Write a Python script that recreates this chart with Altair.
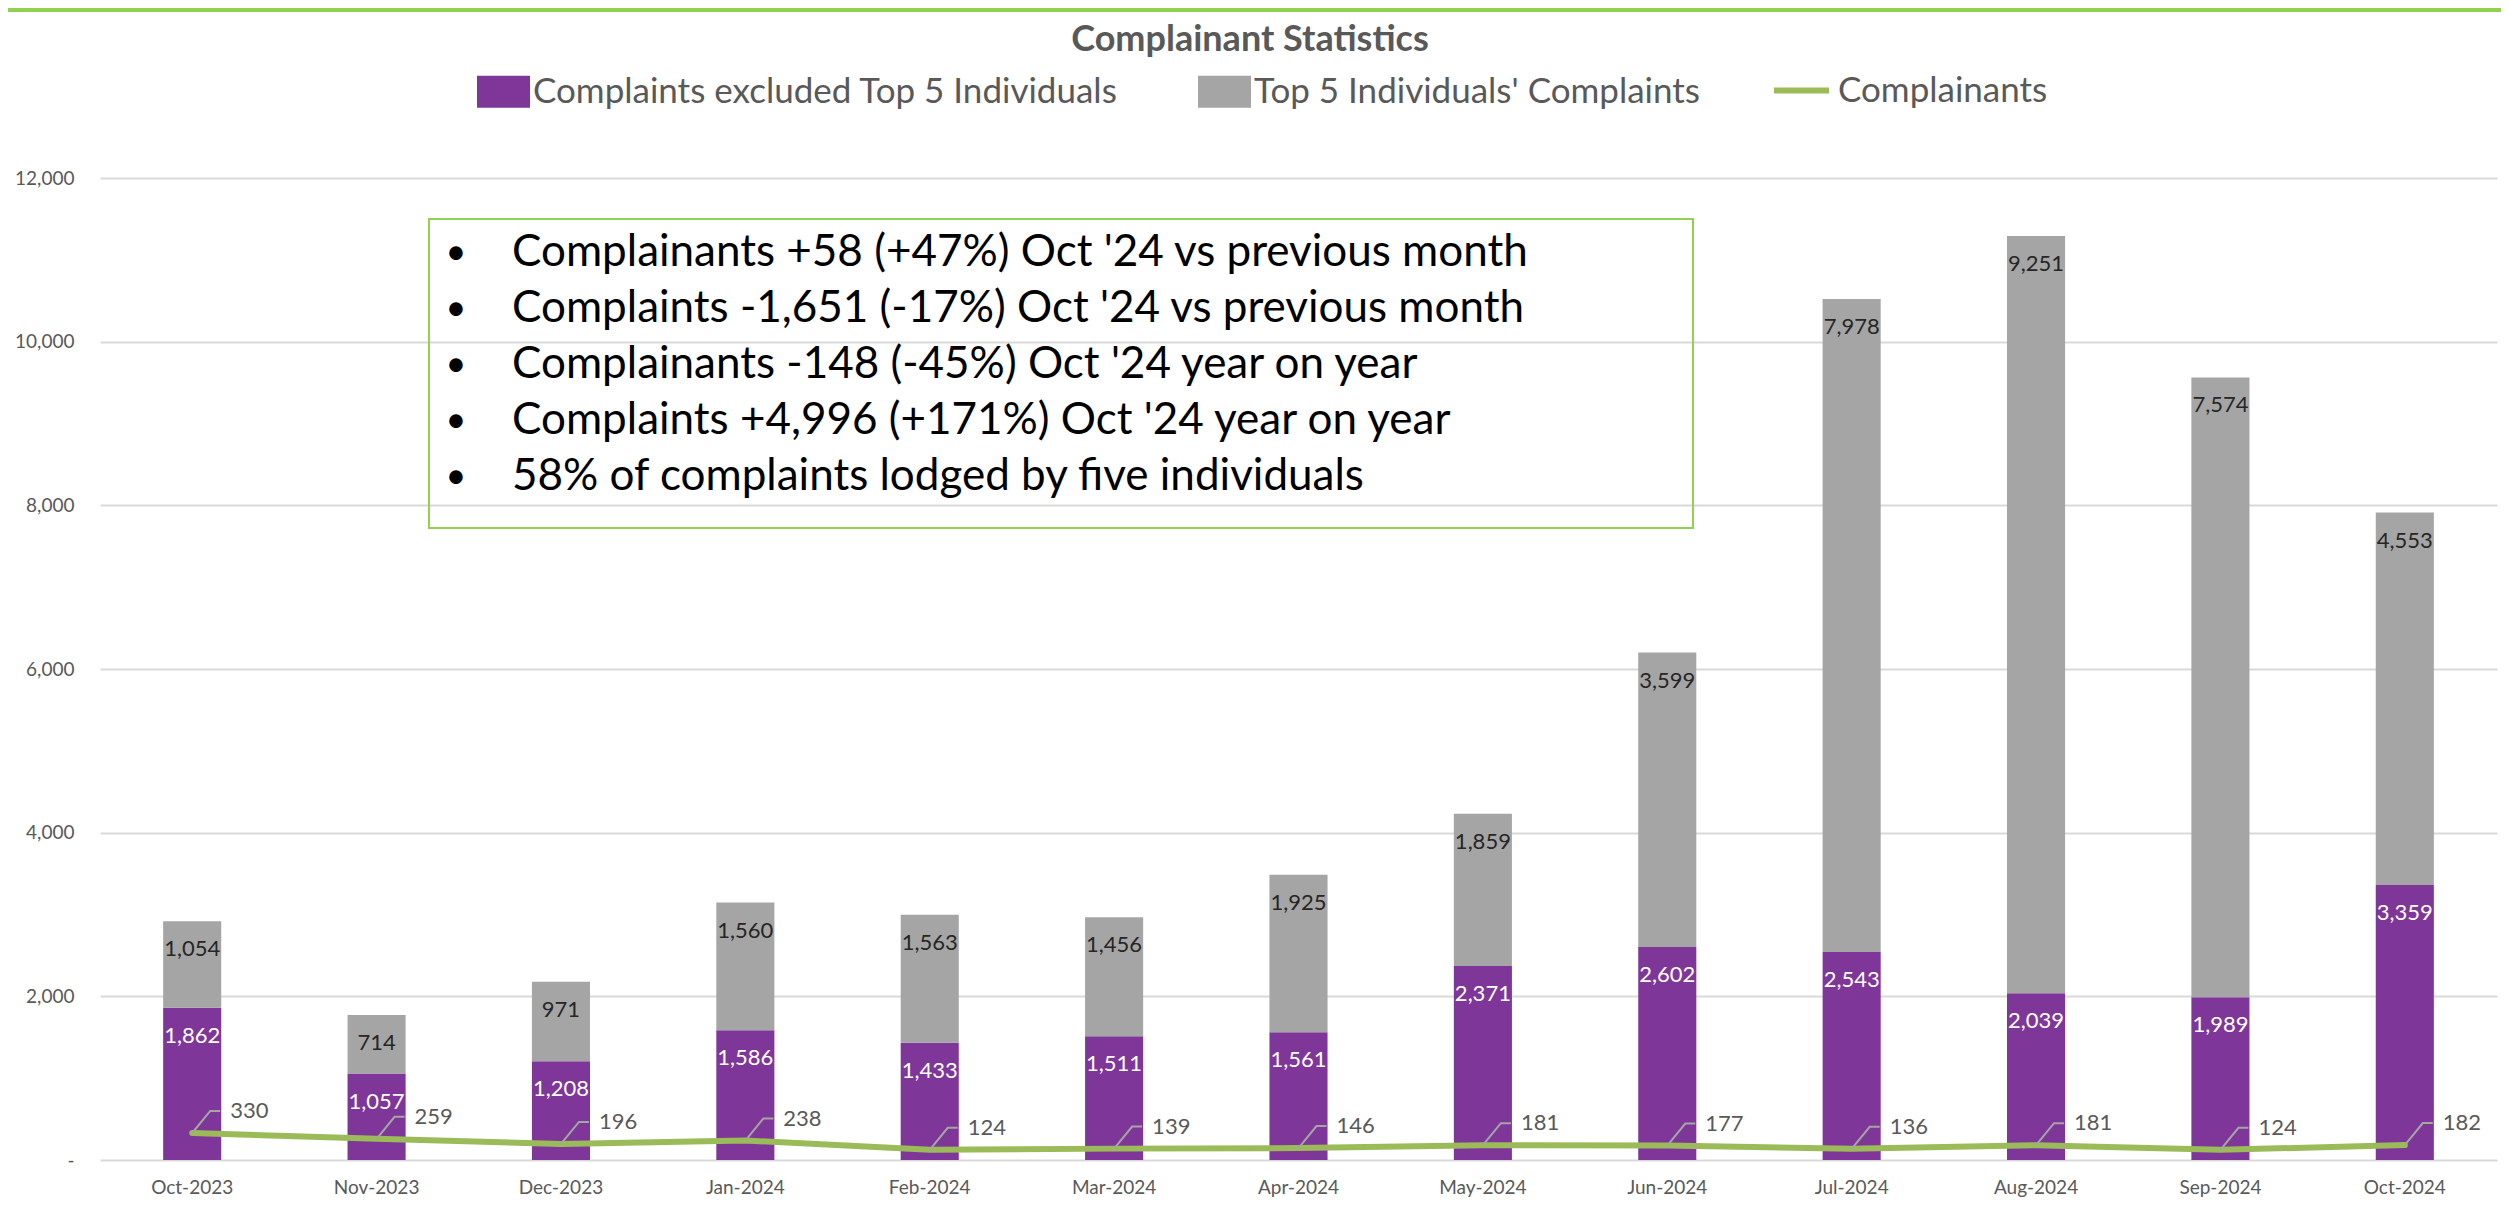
import altair as alt
import pandas as pd

# ---------------- data ----------------
months = ["Oct-2023", "Nov-2023", "Dec-2023", "Jan-2024", "Feb-2024", "Mar-2024",
          "Apr-2024", "May-2024", "Jun-2024", "Jul-2024", "Aug-2024", "Sep-2024", "Oct-2024"]
excluded_top5 = [1862, 1057, 1208, 1586, 1433, 1511, 1561, 2371, 2602, 2543, 2039, 1989, 3359]
top5_complaints = [1054, 714, 971, 1560, 1563, 1456, 1925, 1859, 3599, 7978, 9251, 7574, 4553]
complainants = [330, 259, 196, 238, 124, 139, 146, 181, 177, 136, 181, 124, 182]

series_names = ["Complaints excluded Top 5 Individuals", "Top 5 Individuals' Complaints"]
line_name = "Complainants"
title_text = "Complainant Statistics"
y_ticks = [0, 2000, 4000, 6000, 8000, 10000, 12000]
notes = [
    "Complainants +58 (+47%) Oct '24 vs previous month",
    "Complaints -1,651 (-17%) Oct '24 vs previous month",
    "Complainants -148 (-45%) Oct '24 year on year",
    "Complaints +4,996 (+171%) Oct '24 year on year",
    "58% of complaints lodged by five individuals",
]

# ---------------- styling ----------------
FONT = "Lato"
PURPLE = "#7F3699"
GREY = "#A5A5A5"
GREEN = "#9BBB59"
BOX_GREEN = "#92D050"
TXT = "#595959"
W, H = 2397, 982

rows = []
for i, m in enumerate(months):
    rows.append({"month": m, "series": series_names[0], "value": excluded_top5[i],
                 "ord": 0, "end": excluded_top5[i]})
    rows.append({"month": m, "series": series_names[1], "value": top5_complaints[i],
                 "ord": 1, "end": excluded_top5[i] + top5_complaints[i]})
bar_df = pd.DataFrame(rows)
line_df = pd.DataFrame({"month": months, "complainants": complainants,
                        "legend": [line_name] * len(months)})
one = pd.DataFrame({"a": [0]})

x_enc = alt.X("month:N", sort=months, title=None,
              scale=alt.Scale(paddingInner=0.685, paddingOuter=0.3425),
              axis=alt.Axis(labelAngle=0, labelFont=FONT, labelFontSize=19, labelColor=TXT,
                            labelPadding=18, domain=False, ticks=False, grid=False))
y_scale = alt.Scale(domain=[0, 12000], nice=False)

bars = alt.Chart(bar_df).mark_bar().encode(
    x=x_enc,
    y=alt.Y("value:Q", stack="zero", scale=y_scale, title=None,
            axis=alt.Axis(values=y_ticks, labelExpr="datum.value == 0 ? '-' : format(datum.value, ',')",
                          labelFont=FONT, labelFontSize=19, labelColor=TXT, labelPadding=26,
                          domain=False, ticks=False, grid=True, gridColor="#D9D9D9", gridWidth=2)),
    color=alt.Color("series:N", scale=alt.Scale(domain=series_names, range=[PURPLE, GREY]),
                    legend=alt.Legend(orient="none", legendX=377, legendY=-113, direction="horizontal",
                                      title=None, symbolType="M-1,-0.6H1V0.6H-1Z", symbolSize=2809,
                                      symbolStrokeWidth=0, labelFont=FONT, labelFontSize=35,
                                      labelColor=TXT, labelOffset=3, columnPadding=80, labelLimit=2000)),
    order=alt.Order("ord:Q"),
)

bar_labels = alt.Chart(bar_df).mark_text(font=FONT, fontSize=22, baseline="middle", dy=28).encode(
    x=alt.X("month:N", sort=months),
    y=alt.Y("end:Q", scale=y_scale),
    text=alt.Text("value:Q", format=","),
    color=alt.condition(alt.datum.series == series_names[0], alt.value("white"), alt.value("#262626")),
)

line = alt.Chart(line_df).mark_line(strokeWidth=6, strokeCap="round", strokeJoin="round").encode(
    x=alt.X("month:N", sort=months),
    y=alt.Y("complainants:Q", scale=y_scale),
    stroke=alt.Stroke("legend:N", scale=alt.Scale(domain=[line_name], range=[GREEN]),
                      legend=alt.Legend(orient="none", legendX=1671, legendY=-118, title=None,
                                        symbolType="stroke", symbolSize=3025, symbolStrokeWidth=6,
                                        labelFont=FONT, labelFontSize=35, labelColor=TXT,
                                        labelOffset=6, labelLimit=2000)),
)

leaders = alt.Chart(line_df).mark_point(shape="M0,0L0.643,-0.786L1,-0.786", size=3136, filled=False,
                                         color=GREY, strokeWidth=2, opacity=1).encode(
    x=alt.X("month:N", sort=months),
    y=alt.Y("complainants:Q", scale=y_scale),
)

line_labels = alt.Chart(line_df).mark_text(font=FONT, fontSize=22, color=TXT, align="left",
                                           baseline="middle", dx=38, dy=-22).encode(
    x=alt.X("month:N", sort=months),
    y=alt.Y("complainants:Q", scale=y_scale),
    text=alt.Text("complainants:Q", format=","),
)

box = alt.Chart(one).mark_rect(fill="transparent", stroke=BOX_GREEN, strokeWidth=2).encode(
    x=alt.value(329), x2=alt.value(1593), y=alt.value(41), y2=alt.value(350))

note_text = alt.Chart(one).mark_text(font=FONT, fontSize=44, color="black", align="left",
                                     baseline="middle", lineHeight=56).encode(
    x=alt.value(412), y=alt.value(75), text=alt.value(notes))

bullets = alt.Chart(one).mark_text(font=FONT, fontSize=36, color="black", align="center",
                                   baseline="middle", lineHeight=56).encode(
    x=alt.value(356), y=alt.value(75), text=alt.value(["•"] * len(notes)))

title = alt.Chart(one).mark_text(font=FONT, fontSize=36, fontWeight="bold", color=TXT,
                                 align="center", baseline="middle").encode(
    x=alt.value(1150), y=alt.value(-138), text=alt.value(title_text))

top_border = alt.Chart(one).mark_rule(color=BOX_GREEN, strokeWidth=4).encode(
    x=alt.value(-92), x2=alt.value(2405), y=alt.value(-168))

chart = alt.layer(bars, bar_labels, line, leaders, line_labels, box, note_text, bullets,
                  title, top_border).resolve_scale(
    color="independent"
).properties(
    width=W, height=H,
    autosize=alt.AutoSizeParams(type="none"),
    padding={"left": 92, "top": 170, "right": 4, "bottom": 42},
    background="white",
).configure_view(stroke=None)

chart.save("out.html", embed_options={"renderer": "svg", "actions": False})
